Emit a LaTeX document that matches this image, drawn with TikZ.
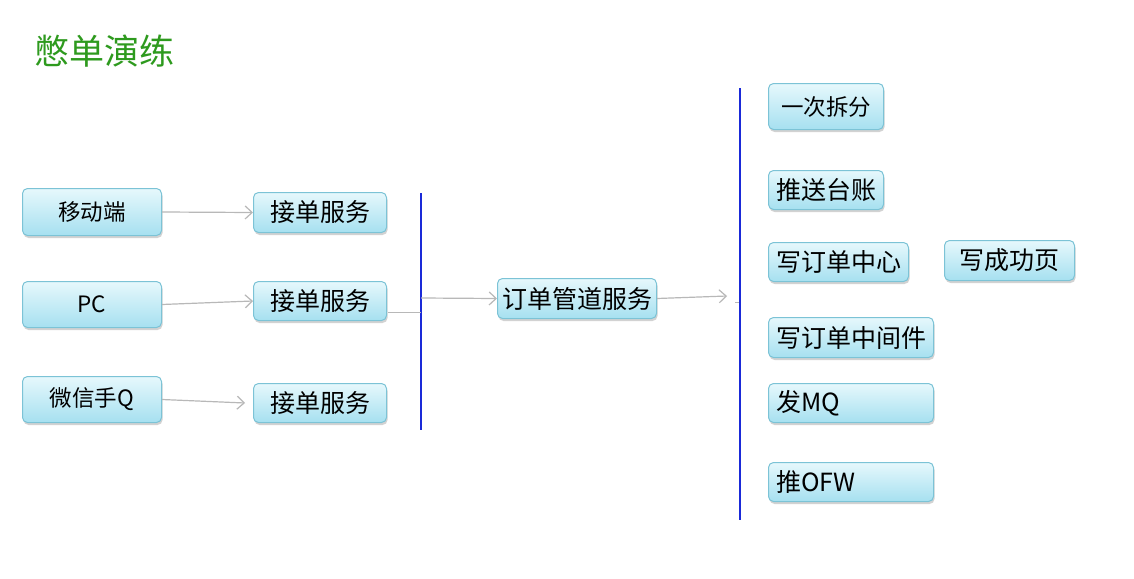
\documentclass[tikz,border=0pt]{standalone}
\usepackage{fontspec}
\setmainfont{Liberation Sans}
\newfontfamily\cjk{Noto Sans CJK SC}
\usetikzlibrary{shadows,arrows.meta}
\definecolor{boxtop}{HTML}{E6F8FC}
\definecolor{boxbot}{HTML}{A6E0F0}
\definecolor{boxedge}{HTML}{7CC3D6}
\definecolor{flow}{HTML}{B8B8B8}
\definecolor{rail}{HTML}{1A2AD8}
\definecolor{titlegreen}{HTML}{2E9A1E}
\tikzset{
  x=1pt, y=-1pt,
  card/.style={draw=boxedge, line width=1pt, rounded corners=5pt,
    top color=boxtop, bottom color=boxbot, inner sep=0pt,
    drop shadow={shadow xshift=1pt, shadow yshift=-2.5pt, opacity=0.35, fill=gray},
    font=\cjk\fontsize{22.5}{24}\selectfont, text=black},
  bigcard/.style={card, font=\cjk\fontsize{25}{27}\selectfont},
  flowarrow/.style={draw=flow, line width=1.2pt, -{Straight Barb[length=7pt,width=13pt,line width=1.2pt]}},
  railline/.style={draw=rail, line width=2pt},
}
\newcommand{\cardat}[6]{% name, style, x1, y1, x2, y2 ; text follows
  \node[#2, minimum width=#5-#3, minimum height=#6-#4, anchor=north west] (#1) at (#3,#4)}
\begin{document}
\begin{tikzpicture}
\useasboundingbox (0,0) rectangle (1134,578);
\fill[white] (0,0) rectangle (1134,578);

% title
\node[anchor=west, text=titlegreen, font=\cjk\fontsize{35}{37}\selectfont, inner sep=0pt] (title) at (34,51) {憋单演练};

% clients
\cardat{c1}{card}{22}{188}{161}{235} {移动端};
\cardat{c2}{card}{22}{281}{161}{327} {PC};
\cardat{c3}{card}{22}{376}{161}{422} {微信手Q};

% order intake
\cardat{r1}{bigcard}{253}{192}{386}{232} {接单服务};
\cardat{r2}{bigcard}{253}{281}{386}{320} {接单服务};
\cardat{r3}{bigcard}{253}{383}{386}{422} {接单服务};

\draw[flowarrow] (c1.east) -- (r1.west);
\draw[flowarrow] (c2.east) -- (r2.west);
\draw[flowarrow] (c3.east) -- ([xshift=-8pt]r3.west);

% first rail
\coordinate (ra) at (421,193);
\coordinate (rb) at (421,430);
\draw[railline] (ra) -- (rb);
\coordinate (tk1) at (388,312);
\draw[flow, line width=0.8pt] (tk1) -- ++(33,0);

% pipeline
\cardat{p}{bigcard}{497}{278}{656}{318} {订单管道服务};
\coordinate (pin) at (421,298);
\draw[flowarrow] (pin) -- (p.west);
\coordinate (pout) at (727,296);
\draw[flowarrow] (p.east) -- (pout);
\coordinate (tk2) at (735,302);
\draw[flow, line width=0.8pt] (tk2) -- ++(5,0);

% second rail
\coordinate (rc) at (740,88);
\coordinate (rd) at (740,520);
\draw[railline] (rc) -- (rd);

% steps
\cardat{s1}{card}{768}{83}{883}{129} {一次拆分};
\cardat{s2}{bigcard}{768}{170}{883}{209} {推送台账};
\cardat{s3}{bigcard}{768}{242}{908}{281} {写订单中心};
\cardat{s4}{bigcard}{944}{240}{1074}{280} {写成功页};
\node[card, font=\cjk\fontsize{25}{27}\selectfont, minimum width=165, minimum height=40, anchor=north west] (s5) at (768,317) {写订单中间件};
\node[bigcard, minimum width=165, minimum height=39, anchor=north west, text width=150, align=left] (s6) at (768,383) {发MQ};
\node[bigcard, minimum width=165, minimum height=39, anchor=north west, text width=150, align=left] (s7) at (768,462) {推OFW};
\end{tikzpicture}
\end{document}
